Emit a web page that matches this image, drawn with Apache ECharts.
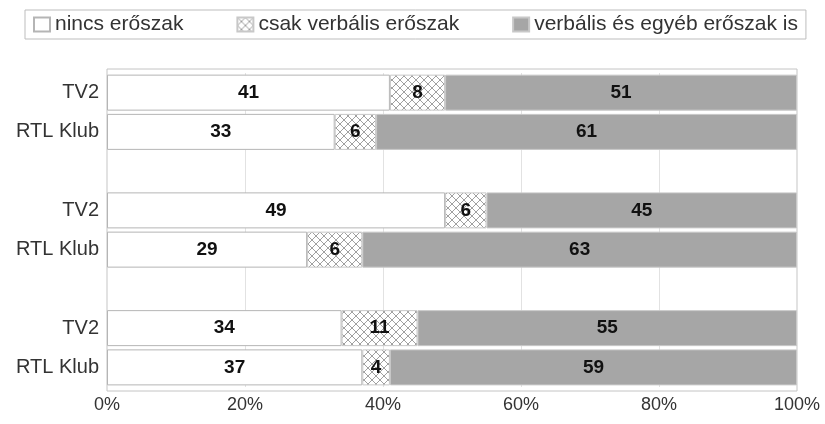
<!DOCTYPE html>
<html>
<head>
<meta charset="utf-8">
<script src="https://cdn.jsdelivr.net/npm/echarts@6/dist/echarts.min.js"></script>
<style>
	html, body {margin:0; padding:0; background:#fff;}
	#main {width:825px; height:424px;}
</style>
</head>
<body>
<div id="main"></div>
<script>
// kategóriák felülről lefelé (üres sorok a csoportok között)
var categories = ['TV2', 'RTL Klub', '', 'TV2', 'RTL Klub', '', 'TV2', 'RTL Klub'];
var seriesNames = ['nincs erőszak', 'csak verbális erőszak', 'verbális és egyéb erőszak is'];
var nincs = [41, 33, '-', 49, 29, '-', 34, 37];
var csakVerbalis = [8, 6, '-', 6, 8, '-', 11, 4];
var csakVerbalisLabels = ['8', '6', '', '6', '6', '', '11', '4'];
var egyeb = [51, 61, '-', 45, 63, '-', 55, 59];
var xTicks = [0, 20, 40, 60, 80, 100];

var fontFamily = '"Liberation Sans", Arial, sans-serif';

// sraffozott minta a középső sorozathoz
function hatchPattern(){
	var c = document.createElement('canvas');
	c.width = 8;
	c.height = 8;
	var ctx = c.getContext('2d');
	ctx.fillStyle = '#fff';
	ctx.fillRect(0, 0, 8, 8);
	ctx.strokeStyle = '#a0a0a0';
	ctx.lineWidth = 1;
	ctx.beginPath();
	ctx.moveTo(0, 0); ctx.lineTo(8, 8);
	ctx.moveTo(8, 0); ctx.lineTo(0, 8);
	ctx.stroke();
	return c;
}

function barLabel(formatter){
	return {
		show: true,
		position: 'inside',
		color: '#111',
		fontWeight: 'bold',
		fontSize: 19,
		fontFamily: fontFamily,
		formatter: formatter || '{c}'
	};
}

var option = {
	animation: false,
	textStyle: {fontFamily: fontFamily},
	legend: {
		top: 10,
		left: 25,
		icon: 'rect',
		itemWidth: 16,
		itemHeight: 14,
		itemGap: 53,
		padding: [4, 8, 4, 8],
		borderColor: '#bdbdbd',
		borderWidth: 1,
		textStyle: {fontSize: 21, color: '#333', fontFamily: fontFamily},
		data: seriesNames
	},
	grid: {
		left: 107,
		right: 28,
		top: 73,
		bottom: 37,
		containLabel: false
	},
	graphic: [{
		type: 'rect',
		shape: {x: 107, y: 69, width: 690, height: 322},
		style: {fill: 'none', stroke: '#c4c4c4', lineWidth: 1},
		silent: true
	}],
	xAxis: {
		type: 'value',
		min: xTicks[0],
		max: xTicks[xTicks.length - 1],
		interval: 20,
		axisLine: {show: false},
		axisTick: {show: false},
		splitLine: {show: true, lineStyle: {color: '#e2e2e2'}},
		axisLabel: {
			fontSize: 18,
			color: '#333',
			margin: 9,
			formatter: '{value}%'
		}
	},
	yAxis: {
		type: 'category',
		inverse: true,
		data: categories,
		axisLine: {show: false},
		axisTick: {show: false},
		splitLine: {show: false},
		axisLabel: {fontSize: 20, color: '#333', margin: 8}
	},
	series: [
		{
			name: seriesNames[0],
			type: 'bar',
			stack: 'all',
			barWidth: 36,
			itemStyle: {color: '#fff', borderColor: '#b5b5b5', borderWidth: 1},
			label: barLabel(),
			data: nincs
		},
		{
			name: seriesNames[1],
			type: 'bar',
			stack: 'all',
			barWidth: 36,
			itemStyle: {color: {image: hatchPattern(), repeat: 'repeat'}, borderColor: '#c8c8c8', borderWidth: 1},
			label: barLabel(function(p){ return csakVerbalisLabels[p.dataIndex]; }),
			data: csakVerbalis
		},
		{
			name: seriesNames[2],
			type: 'bar',
			stack: 'all',
			barWidth: 36,
			itemStyle: {color: '#a6a6a6', borderColor: '#c8c8c8', borderWidth: 1},
			label: barLabel(),
			data: egyeb
		}
	]
};

var myChart = echarts.init(document.getElementById('main'));
myChart.setOption(option);
</script>
</body>
</html>
